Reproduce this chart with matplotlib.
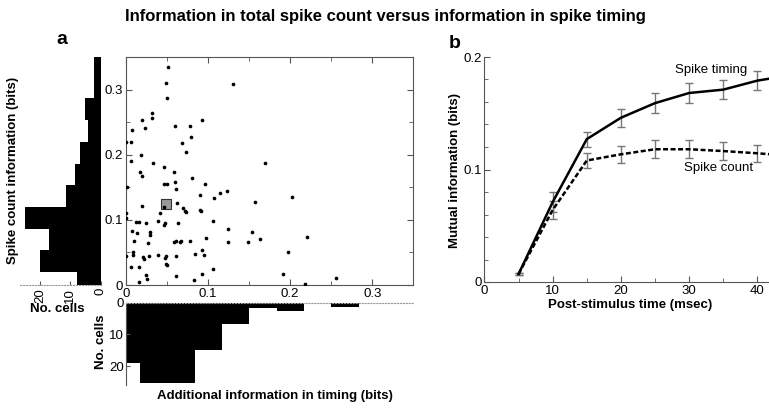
import numpy as np
import matplotlib
matplotlib.use("Agg")
import matplotlib.pyplot as plt
from matplotlib.ticker import MultipleLocator

plt.rcParams['font.family'] = ['Liberation Sans', 'DejaVu Sans']

# ---- data ----
# scatter: additional information in timing (x), spike count information (y)
timing_extra = [0.052, 0.0485, 0.050, 0.131, 0.032, 0.032, 0.0204, 0.024, 0.008, 0.060,
                0.0926, 0.0786, 0.080, 0.068, 0.073, 0.0004, 0.0064, 0.0064, 0.019, 0.033,
                0.170, 0.047, 0.017, 0.020, 0.059, 0.0806, 0.002, 0.0465, 0.0505, 0.0605,
                0.0966, 0.0617, 0.0906, 0.115, 0.1234, 0.107, 0.2024, 0.157, 0.0625, 0.0204,
                0.0469, 0.0697, 0.0717, 0.0733, 0.0906, 0.092, 0.042, 0.0004, 0.0004, 0.0128,
                0.0156, 0.0244, 0.0397, 0.0477, 0.0465, 0.0637, 0.106, 0.0072, 0.0136, 0.0297,
                0.0297, 0.1246, 0.154, 0.221, 0.098, 0.0096, 0.0269, 0.0585, 0.0613, 0.0657,
                0.067, 0.0786, 0.1246, 0.149, 0.1635, 0.0004, 0.0084, 0.0084, 0.0212, 0.022,
                0.028, 0.039, 0.049, 0.0477, 0.061, 0.084, 0.0926, 0.095, 0.1976, 0.0489,
                0.050, 0.0068, 0.016, 0.1066, 0.0244, 0.0926, 0.191, 0.0617, 0.026, 0.016,
                0.0834, 0.256, 0.2176]
count_info = [0.335, 0.310, 0.288, 0.309, 0.265, 0.257, 0.253, 0.242, 0.238, 0.245,
              0.254, 0.244, 0.228, 0.219, 0.204, 0.2205, 0.2205, 0.191, 0.200, 0.187,
              0.187, 0.182, 0.174, 0.167, 0.174, 0.164, 0.151, 0.155, 0.156, 0.158,
              0.156, 0.148, 0.138, 0.141, 0.145, 0.133, 0.136, 0.127, 0.126, 0.122,
              0.120, 0.118, 0.114, 0.112, 0.115, 0.114, 0.111, 0.111, 0.1026, 0.0964,
              0.0974, 0.0959, 0.099, 0.0954, 0.0923, 0.0949, 0.0985, 0.083, 0.0795, 0.082,
              0.077, 0.0867, 0.082, 0.0733, 0.0728, 0.0677, 0.065, 0.0656, 0.0682, 0.0656,
              0.068, 0.0677, 0.0667, 0.0662, 0.0703, 0.045, 0.0513, 0.046, 0.0436, 0.040,
              0.045, 0.0456, 0.045, 0.041, 0.044, 0.0477, 0.054, 0.0467, 0.0508, 0.0318,
              0.0308, 0.0272, 0.0272, 0.0246, 0.0154, 0.0174, 0.0169, 0.0133, 0.0087, 0.0051,
              0.0077, 0.0103, 0.001]
highlight_x = [0.049]
highlight_y = [0.124]

# left histogram (spike count information)
count_edges = [0.0, 0.02, 0.0533, 0.0867, 0.12, 0.1533, 0.1867, 0.22, 0.2533, 0.2867, 0.32, 0.35]
count_hist = [8, 20, 17, 25, 11.5, 8.5, 7, 4.3, 5.2, 2.2, 2.2]

# bottom histogram (additional information in timing)
timing_edges = [0.0, 0.0172, 0.0505, 0.0838, 0.117, 0.150, 0.184, 0.217, 0.250, 0.284]
timing_hist = [19, 25.5, 25.5, 15, 6.8, 1.7, 2.6, 0, 1.5]

# panel b
post_time = [5, 10, 15, 20, 25, 30, 35, 40, 42]
mi_timing = [0.007, 0.071, 0.127, 0.146, 0.159, 0.168, 0.171, 0.179, 0.181]
mi_count = [0.007, 0.064, 0.108, 0.1135, 0.118, 0.118, 0.1164, 0.1144, 0.1135]
err_time = [5, 10, 15, 20, 25, 30, 35, 40]
err_timing = [0.001, 0.009, 0.0067, 0.008, 0.0086, 0.009, 0.0086, 0.0086]
err_count = [0.001, 0.008, 0.0065, 0.0078, 0.0079, 0.008, 0.008, 0.0078]

W, H = 769, 408
fig = plt.figure(figsize=(W / 100, H / 100), dpi=100)

def rect(x0, y0, x1, y1):
    return [x0 / W, 1 - y1 / H, (x1 - x0) / W, (y1 - y0) / H]

spine_col = '#555555'
tick_fs = 9.5

# ---- scatter ----
ax = fig.add_axes(rect(125.7, 57.3, 413.3, 285))
ax.scatter(timing_extra, count_info, s=7, c='black', linewidths=0, zorder=3)
ax.scatter(highlight_x, highlight_y, s=60, marker='s', facecolor='#999999',
           edgecolor='#333333', linewidths=0.8, zorder=2)
ax.set_xlim(0, 0.35)
ax.set_ylim(0, 0.35)
ax.xaxis.set_minor_locator(MultipleLocator(0.05))
ax.yaxis.set_minor_locator(MultipleLocator(0.05))
ax.set_xticks([0, 0.1, 0.2, 0.3])
ax.set_xticklabels(['0', '0.1', '0.2', '0.3'])
ax.set_yticks([0, 0.1, 0.2, 0.3])
ax.set_yticklabels(['0', '0.1', '0.2', '0.3'])
ax.tick_params(which='both', direction='in', top=True, right=True, color=spine_col,
               labelsize=tick_fs, pad=2)
ax.tick_params(which='major', length=4)
ax.tick_params(which='minor', length=3)
for s in ax.spines.values():
    s.set_color(spine_col)
    s.set_linewidth(0.8)

# ---- left histogram ----
axl = fig.add_axes(rect(20, 57.3, 101, 285))
widths = np.diff(count_edges)
axl.barh(count_edges[:-1], count_hist, height=widths, align='edge', color='black',
         edgecolor='black', linewidth=0)
axl.set_ylim(0, 0.35)
axl.set_xlim(26.5, 0)
axl.set_yticks([])
axl.set_xticks([0, 10, 20])
axl.tick_params(axis='x', direction='in', length=3, color=spine_col, labelsize=tick_fs,
                labelrotation=90, pad=2)
for k in ['top', 'left', 'right']:
    axl.spines[k].set_visible(False)
axl.spines['bottom'].set_color('#999999')
axl.spines['bottom'].set_linestyle(':')
axl.spines['bottom'].set_linewidth(0.8)

# ---- bottom histogram ----
axb = fig.add_axes(rect(125.7, 302.7, 413.3, 385))
widths_b = np.diff(timing_edges)
axb.bar(timing_edges[:-1], timing_hist, width=widths_b, align='edge', color='black',
        edgecolor='black', linewidth=0)
axb.set_xlim(0, 0.35)
axb.set_ylim(26, 0)
axb.set_xticks([])
axb.set_yticks([0, 10, 20])
axb.tick_params(axis='y', direction='in', length=3, color=spine_col, labelsize=tick_fs, pad=1)
for k in ['bottom', 'right']:
    axb.spines[k].set_visible(False)
axb.spines['left'].set_color(spine_col)
axb.spines['left'].set_linewidth(0.8)
axb.spines['top'].set_color('#999999')
axb.spines['top'].set_linestyle(':')
axb.spines['top'].set_linewidth(0.8)

# ---- panel b ----
ax2 = fig.add_axes(rect(484.4, 57, 769, 282))
ax2.errorbar(err_time, mi_timing[:len(err_time)], yerr=err_timing, fmt='none',
             ecolor='#777777', elinewidth=1, capsize=3, capthick=1, zorder=2)
ax2.errorbar(err_time, mi_count[:len(err_time)], yerr=err_count, fmt='none',
             ecolor='#777777', elinewidth=1, capsize=3, capthick=1, zorder=2)
ax2.plot(post_time, mi_timing, color='black', lw=1.8, zorder=3)
ax2.plot(post_time, mi_count, color='black', lw=1.8, ls=(0, (2, 1)), zorder=3)
ax2.set_xlim(0, 41.7)
ax2.set_ylim(0, 0.2)
ax2.set_xticks([0, 10, 20, 30, 40])
ax2.xaxis.set_minor_locator(MultipleLocator(5))
ax2.set_yticks([0, 0.1, 0.2])
ax2.set_yticklabels(['0', '0.1', '0.2'])
ax2.yaxis.set_minor_locator(MultipleLocator(0.02))
ax2.tick_params(which='both', direction='in', color=spine_col, labelsize=tick_fs, pad=2)
ax2.tick_params(which='major', length=4)
ax2.tick_params(which='minor', length=3)
for k in ['top', 'right']:
    ax2.spines[k].set_visible(False)
for k in ['left', 'bottom']:
    ax2.spines[k].set_color(spine_col)
    ax2.spines[k].set_linewidth(0.8)
fig.text(711 / W, 1 - 70 / H, 'Spike timing', fontsize=9.5, ha='center', va='center')
fig.text(719 / W, 1 - 168 / H, 'Spike count', fontsize=9.5, ha='center', va='center')

# ---- labels ----
bold = dict(fontweight='bold')
fig.text(385 / W, 1 - 17 / H, 'Information in total spike count versus information in spike timing',
         fontsize=12, ha='center', va='center', **bold)
fig.text(62 / W, 1 - 40 / H, 'a', fontsize=14, ha='center', va='center', **bold)
fig.text(455 / W, 1 - 44 / H, 'b', fontsize=14, ha='center', va='center', **bold)
fig.text(13 / W, 1 - 170 / H, 'Spike count information (bits)', rotation=90, fontsize=9.5,
         ha='center', va='center', **bold)
fig.text(57 / W, 1 - 309 / H, 'No. cells', fontsize=9.5, ha='center', va='center', **bold)
fig.text(101 / W, 1 - 342 / H, 'No. cells', rotation=90, fontsize=9.5, ha='center',
         va='center', **bold)
fig.text(275 / W, 1 - 396 / H, 'Additional information in timing (bits)', fontsize=9.5,
         ha='center', va='center', **bold)
fig.text(455 / W, 1 - 170 / H, 'Mutual information (bits)', rotation=90, fontsize=9.5,
         ha='center', va='center', **bold)
fig.text(630 / W, 1 - 305 / H, 'Post-stimulus time (msec)', fontsize=9.5, ha='center',
         va='center', **bold)

fig.savefig('out.png', dpi=100)
